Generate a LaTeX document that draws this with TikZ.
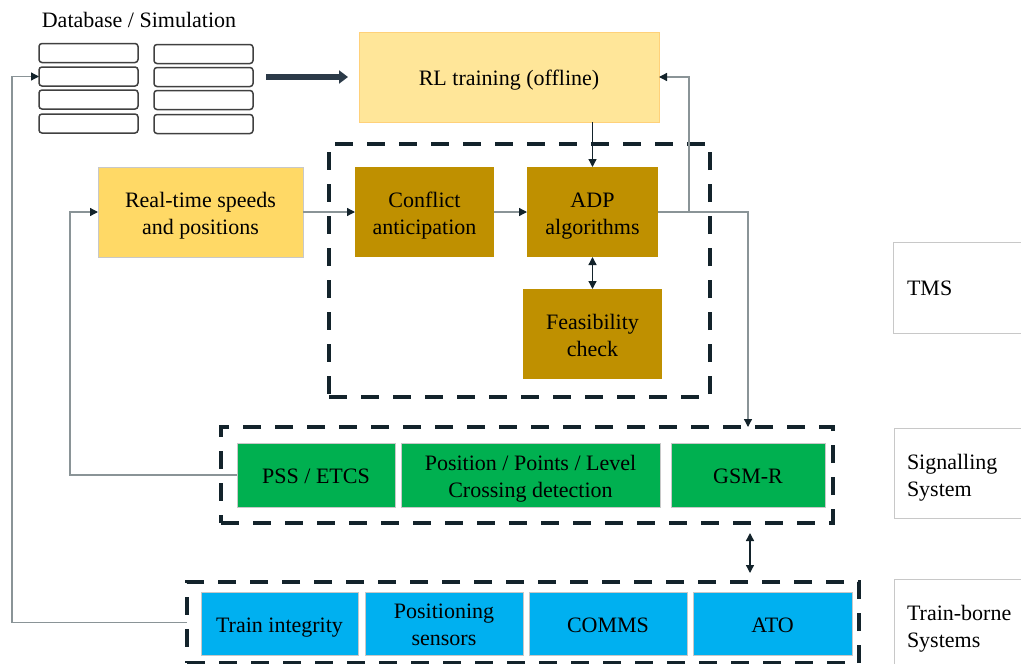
\documentclass[tikz,border=0pt]{standalone}
\usepackage{fontspec}
\setmainfont{Liberation Serif}
\usetikzlibrary{arrows.meta,calc}
\definecolor{inkdark}{HTML}{13232B}
\definecolor{linegray}{HTML}{8A9497}
\definecolor{rlyellow}{HTML}{FFE699}
\definecolor{rtyellow}{HTML}{FFD966}
\definecolor{gold}{HTML}{BF9000}
\definecolor{sigreen}{HTML}{00B050}
\definecolor{tbblue}{HTML}{00B0F0}
\definecolor{bigarrowc}{HTML}{2B3A48}
\definecolor{edgegray}{HTML}{C8C8C8}
% uniform line strut so that every text sits at the same height in its box
\newcommand{\LineStrut}{\rule[-6pt]{0pt}{29pt}}
\newcommand{\TopStrut}{\rule{0pt}{23pt}}
\newcommand{\BotStrut}{\rule[-6pt]{0pt}{6pt}}
% two-line label with struts on its first and last line
\newcommand{\TwoLines}[2]{\TopStrut#1\\#2\BotStrut}
\begin{document}
\begin{tikzpicture}[x=1pt,y=-1pt,
  every node/.style={font=\fontsize{22}{27}\selectfont, align=center, inner sep=0pt, outer sep=0pt},
  txt/.style={execute at begin node=\LineStrut, execute at end node=\LineStrut},
  dbrow/.style={draw=black!75, line width=1.5pt, rounded corners=3pt, minimum width=99pt, minimum height=19pt},
  block/.style={txt, rectangle, minimum height=90pt},
  unit/.style={txt, rectangle, draw=edgegray, line width=1pt, minimum height=64pt},
  frame/.style={rectangle, draw=inkdark, line width=4pt, dash pattern=on 18pt off 14pt},
  tag/.style={rectangle, draw=edgegray, line width=1pt},
  tagtext/.style={txt, anchor=west, align=left},
  tip/.style={-{Triangle[length=8pt,width=8pt,color=inkdark]}},
  link/.style={draw=linegray, line width=1.3pt, tip},
  darklink/.style={draw=inkdark, line width=1.3pt, tip},
  both/.style={draw=inkdark, line width=1.3pt, {Triangle[length=8pt,width=8pt]}-{Triangle[length=8pt,width=8pt]}},
  bigarrow/.style={draw=bigarrowc, line width=5.5pt, -{Triangle[length=9pt,width=13pt]}}
]
\clip (0,0) rectangle (1021,664);

% dashed subsystem frames
\node[frame, minimum width=381pt, minimum height=253.5pt] (tms) at (519.5,270.25) {};
\node[frame, minimum width=612pt, minimum height=96pt] (sig) at (527,475) {};
\node[frame, minimum width=672pt, minimum height=81pt] (train) at (523,622.5) {};

% database / simulation records
\node[txt] (dbtitle) at (139,19) {Database / Simulation};
\node[dbrow] (d11) at (88.5,53) {};
\node[dbrow] (d12) at (88.5,76.5) {};
\node[dbrow] (d13) at (88.5,99.5) {};
\node[dbrow] (d14) at (88.5,123.5) {};
\node[dbrow] (d21) at (203.5,54) {};
\node[dbrow] (d22) at (203.5,77) {};
\node[dbrow] (d23) at (203.5,100) {};
\node[dbrow] (d24) at (203.5,124) {};

% TMS blocks
\node[block, fill=rlyellow, draw=rlyellow!80!orange, line width=0.8pt, minimum width=300pt] (rl) at (509,77) {RL training (offline)};
\node[block, fill=rtyellow, draw=edgegray, line width=0.8pt, minimum width=205pt] (rt) at (200.5,212) {\TwoLines{Real-time speeds}{and positions}};
\node[block, fill=gold, minimum width=139pt] (ca) at (424.5,212) {\TwoLines{Conflict}{anticipation}};
\node[block, fill=gold, minimum width=131pt] (adp) at (592.5,212) {\TwoLines{ADP}{algorithms}};
\node[block, fill=gold, minimum width=139pt] (fc) at (592.5,334) {\TwoLines{Feasibility}{check}};

% signalling system units
\node[unit, fill=sigreen, minimum width=158pt] (pss) at (316,475) {PSS / ETCS};
\node[unit, fill=sigreen, minimum width=259pt] (ppl) at (530.5,475) {\TwoLines{Position / Points / Level}{Crossing detection}};
\node[unit, fill=sigreen, minimum width=154pt] (gsm) at (748,475) {GSM-R};

% train-borne units
\node[unit, fill=tbblue, minimum width=157pt, minimum height=63pt] (ti) at (279.5,623.5) {Train integrity};
\node[unit, fill=tbblue, minimum width=158pt, minimum height=63pt] (ps) at (444,623.5) {\TwoLines{Positioning}{sensors}};
\node[unit, fill=tbblue, minimum width=158pt, minimum height=63pt] (cm) at (608,623.5) {COMMS};
\node[unit, fill=tbblue, minimum width=159pt, minimum height=63pt] (ato) at (772.5,623.5) {ATO};

% layer labels
\node[tag, minimum width=140pt, minimum height=91pt] (tmstag) at (963,287.5) {};
\node[tagtext] (tmstext) at (907,287) {TMS};
\node[tag, minimum width=140pt, minimum height=90pt] (sigtag) at (964,473) {};
\node[tagtext] (sigtext) at (907,474) {\TwoLines{Signalling}{System}};
\node[tag, minimum width=140pt, minimum height=110pt] (trtag) at (964,634) {};
\node[tagtext] (trtext) at (907,625) {\TwoLines{Train-borne}{Systems}};

% connectors
\draw[bigarrow] ([xshift=13pt]d22.east) -- ([xshift=-11pt]rl.west);
\draw[darklink] (adp.north |- rl.south) -- (adp.north);
\draw[link] (rt.east) -- (ca.west);
\draw[link] (ca.east) -- (adp.west);
\draw[both] (adp.south) -- (fc.north);
\coordinate (branch) at (689,212);
\draw[link] (branch) |- (rl.east);
\draw[link] (adp.east) -| (gsm.north |- sig.north);
\draw[link] (pss.west) -- ++(-167,0) |- (rt.west);
\draw[link] (train.west) -- ++(-175,0) |- (d12.west);
\coordinate (upper) at (750,523);
\coordinate (lower) at (750,582);
\draw[both] ([yshift=-10pt]upper) -- ([yshift=9pt]lower);
\end{tikzpicture}
\end{document}
